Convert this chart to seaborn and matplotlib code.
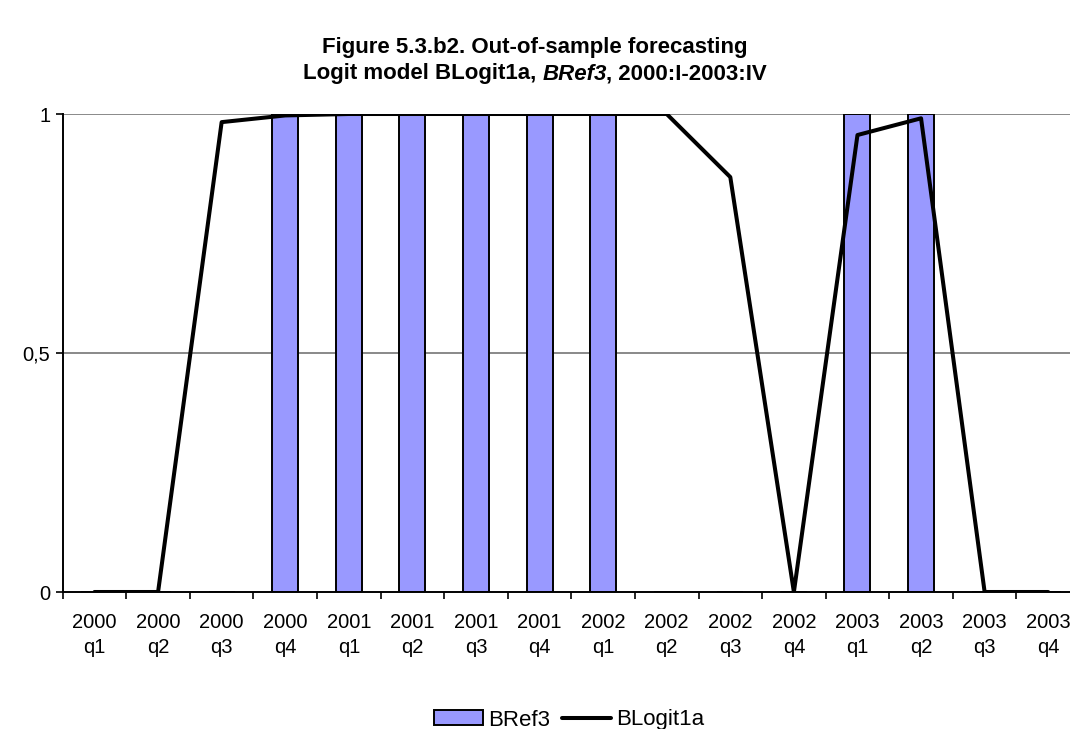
import numpy as np
import pandas as pd
import matplotlib
matplotlib.use("Agg")
import matplotlib.pyplot as plt
from matplotlib.patches import Patch
from matplotlib.lines import Line2D
import seaborn as sns

# Quarterly categories, 2000:I to 2003:IV
quarters = ["2000\nq1", "2000\nq2", "2000\nq3", "2000\nq4",
            "2001\nq1", "2001\nq2", "2001\nq3", "2001\nq4",
            "2002\nq1", "2002\nq2", "2002\nq3", "2002\nq4",
            "2003\nq1", "2003\nq2", "2003\nq3", "2003\nq4"]

# Reference regime indicator (bars)
bref3 = [0, 0, 0, 1, 1, 1, 1, 1, 1, 0, 0, 0, 1, 1, 0, 0]

# Out-of-sample probability from the logit model (line)
blogit1a = [0.0, 0.0, 0.983, 0.997, 1.0, 1.0, 1.0, 1.0, 1.0, 1.0,
            0.868, 0.0, 0.956, 0.991, 0.0, 0.0]

yticks = [0, 0.5, 1]
ytick_labels = ["0", "0,5", "1"]

sns.set_theme(style="white")
plt.rcParams["font.family"] = ["Liberation Sans", "DejaVu Sans"]
plt.rcParams["text.color"] = "black"
plt.rcParams["xtick.color"] = "black"
plt.rcParams["ytick.color"] = "black"
plt.rcParams["xtick.labelcolor"] = "black"
plt.rcParams["ytick.labelcolor"] = "black"

fig = plt.figure(figsize=(10.70, 7.29), dpi=100)
ax = fig.add_axes([62.7 / 1070, 137 / 729, (1080 - 62.7) / 1070, 478 / 729])

df = pd.DataFrame({"quarter": quarters, "BRef3": bref3,
                   "BLogit1a": blogit1a, "pos": np.arange(len(quarters))})

sns.barplot(data=df, x="quarter", y="BRef3", order=quarters, ax=ax,
            color="#9999FF", saturation=1, width=0.41,
            edgecolor="black", linewidth=1.4, zorder=2)
sns.lineplot(data=df, x="pos", y="BLogit1a", ax=ax, color="black",
             linewidth=2.9, zorder=3, sort=False)

ax.set_xlim(-0.5, len(quarters) - 0.5)
ax.set_ylim(0, 1)
ax.set_yticks(yticks)
ax.set_yticklabels(ytick_labels, fontsize=14.5)
ax.set_xticks(np.arange(len(quarters)) - 0.5)
ax.set_xticklabels([])
ax.set_xticks(np.arange(len(quarters)), minor=True)
ax.set_xticklabels(quarters, minor=True, fontsize=14.5, linespacing=1.4)
ax.tick_params(axis="x", which="minor", length=0, pad=15)
ax.tick_params(axis="x", which="major", length=5, width=1.2, color="black",
               direction="out", bottom=True)
ax.tick_params(axis="y", length=5, width=1.2, color="black", direction="out",
               left=True, pad=4)
ax.set_xlabel("")
ax.set_ylabel("")

for y in [0.5, 1.0]:
    ax.axhline(y, color="#808080", linewidth=1.3, zorder=1)

for side in ["top", "right"]:
    ax.spines[side].set_visible(False)
for side in ["left", "bottom"]:
    ax.spines[side].set_color("black")
    ax.spines[side].set_linewidth(1.4)
ax.spines["bottom"].set_zorder(4)

# Title, second line mixes bold and bold italic text
fig.text(0.5, 1 - 48 / 729, "Figure 5.3.b2. Out-of-sample forecasting",
         ha="center", va="center", fontsize=16, fontweight="bold")
parts = [("Logit model BLogit1a, ", "normal"), ("BRef3", "italic"),
         (", 2000:I-2003:IV", "normal")]
fig.canvas.draw()
renderer = fig.canvas.get_renderer()
texts = []
for s, style in parts:
    t = fig.text(0, 1 - 74 / 729, s, ha="left", va="center", fontsize=16,
                 fontweight="bold", fontstyle=style)
    texts.append(t)
widths = [t.get_window_extent(renderer).width for t in texts]
total = sum(widths)
x0 = 535 - total / 2
for t, w in zip(texts, widths):
    t.set_x(x0 / 1070)
    x0 += w

handles = [Patch(facecolor="#9999FF", edgecolor="black", linewidth=1.4),
           Line2D([0], [0], color="black", linewidth=2.9)]
fig.legend(handles, ["BRef3", "BLogit1a"], loc="center",
           bbox_to_anchor=(569 / 1070, 1 - 720 / 729), ncol=2, frameon=False,
           fontsize=16, handlelength=2.2, handleheight=0.68,
           handletextpad=0.23, columnspacing=0.55, borderpad=0.0)

fig.savefig("out.png", dpi=100, facecolor="white")
